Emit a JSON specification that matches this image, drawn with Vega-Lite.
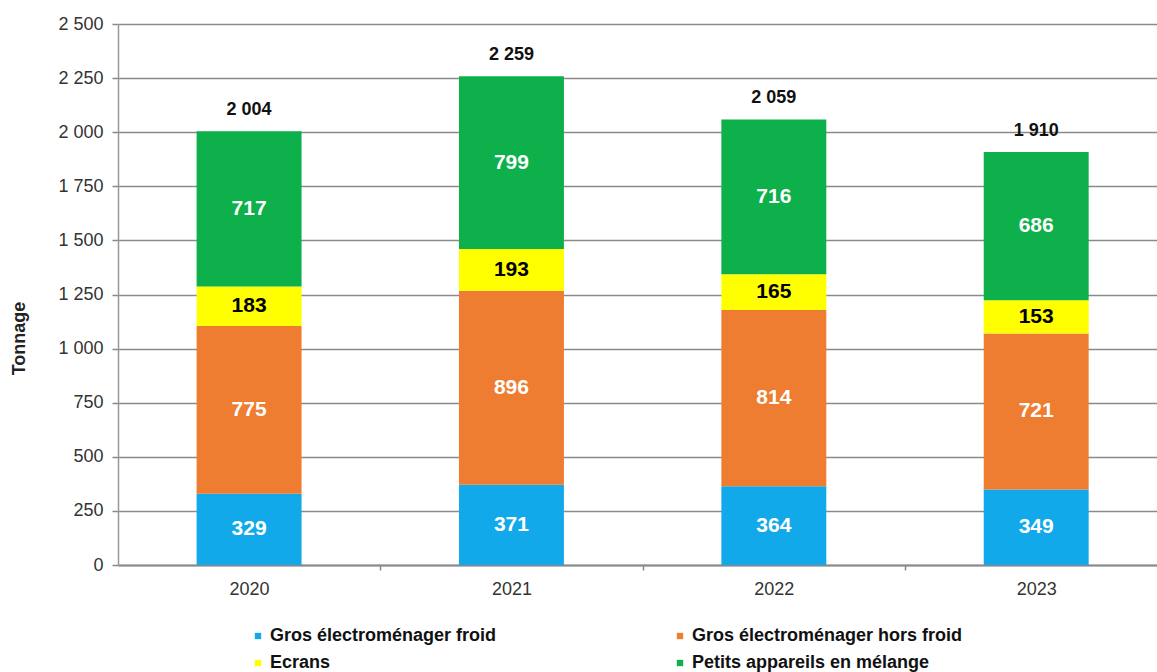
{
  "$schema": "https://vega.github.io/schema/vega-lite/v6.json",
  "width": 1039,
  "height": 541,
  "autosize": {"type": "none"},
  "padding": {"left": 118, "top": 24, "right": 0, "bottom": 107},
  "background": "white",
  "config": {
    "view": {"stroke": null},
    "font": "Liberation Sans",
    "locale": {"number": {"decimal": ",", "thousands": " ", "grouping": [3], "currency": ["", " €"]}}
  },
  "datasets": {
    "tonnages": [
      {"annee": "2020", "categorie": "Gros électroménager froid", "ordre": 1, "valeur": 329},
      {"annee": "2020", "categorie": "Gros électroménager hors froid", "ordre": 2, "valeur": 775},
      {"annee": "2020", "categorie": "Ecrans", "ordre": 3, "valeur": 183},
      {"annee": "2020", "categorie": "Petits appareils en mélange", "ordre": 4, "valeur": 717},
      {"annee": "2021", "categorie": "Gros électroménager froid", "ordre": 1, "valeur": 371},
      {"annee": "2021", "categorie": "Gros électroménager hors froid", "ordre": 2, "valeur": 896},
      {"annee": "2021", "categorie": "Ecrans", "ordre": 3, "valeur": 193},
      {"annee": "2021", "categorie": "Petits appareils en mélange", "ordre": 4, "valeur": 799},
      {"annee": "2022", "categorie": "Gros électroménager froid", "ordre": 1, "valeur": 364},
      {"annee": "2022", "categorie": "Gros électroménager hors froid", "ordre": 2, "valeur": 814},
      {"annee": "2022", "categorie": "Ecrans", "ordre": 3, "valeur": 165},
      {"annee": "2022", "categorie": "Petits appareils en mélange", "ordre": 4, "valeur": 716},
      {"annee": "2023", "categorie": "Gros électroménager froid", "ordre": 1, "valeur": 349},
      {"annee": "2023", "categorie": "Gros électroménager hors froid", "ordre": 2, "valeur": 721},
      {"annee": "2023", "categorie": "Ecrans", "ordre": 3, "valeur": 153},
      {"annee": "2023", "categorie": "Petits appareils en mélange", "ordre": 4, "valeur": 686}
    ],
    "totaux": [
      {"annee": "2020", "total": 2004},
      {"annee": "2021", "total": 2259},
      {"annee": "2022", "total": 2059},
      {"annee": "2023", "total": 1910}
    ]
  },
  "layer": [
    {
      "data": {"name": "tonnages"},
      "transform": [
        {"stack": "valeur", "groupby": ["annee"], "sort": [{"field": "ordre", "order": "ascending"}], "as": ["bas", "haut"]},
        {"calculate": "(datum.bas + datum.haut) / 2", "as": "milieu"}
      ],
      "layer": [
        {
          "mark": {"type": "bar"},
          "encoding": {
            "x": {
              "field": "annee", "type": "ordinal",
              "scale": {"type": "band", "paddingInner": 0.6, "paddingOuter": 0.28, "align": 0.535},
              "axis": {
                "title": null, "labelAngle": 0, "labelFontSize": 18, "labelColor": "#333333",
                "labelPadding": 10, "tickOffset": 131.2, "labelOffset": -131.2, "tickSize": 5, "tickColor": "#888888",
                "tickWidth": 1.5, "domainColor": "#8a8a8a", "domainWidth": 2, "grid": false
              }
            },
            "y": {
              "field": "bas", "type": "quantitative",
              "scale": {"domain": [0, 2500], "nice": false},
              "axis": {
                "title": "Tonnage",
                "values": [0, 250, 500, 750, 1000, 1250, 1500, 1750, 2000, 2250, 2500],
                "format": ",d", "labelFontSize": 18, "labelColor": "#333333",
                "tickSize": 6, "tickColor": "#888888", "tickWidth": 1.5, "labelPadding": 9,
                "gridColor": "#8a8a8a", "gridWidth": 1.5, "domainColor": "#999999", "domainWidth": 1.5,
                "titleFontSize": 18, "titleFontWeight": "bold", "titleColor": "#222222",
                "titleX": -99, "titleY": 314, "titleAngle": -90, "titleAlign": "center", "titleBaseline": "middle"
              }
            },
            "y2": {"field": "haut"},
            "color": {
              "field": "categorie", "type": "nominal",
              "scale": {
                "domain": ["Gros électroménager froid", "Gros électroménager hors froid", "Ecrans", "Petits appareils en mélange"],
                "range": ["#12A9EB", "#EE7D31", "#FFFF00", "#0DB04B"]
              },
              "legend": {
                "orient": "none", "legendX": 131, "legendY": 603, "direction": "horizontal", "columns": 2,
                "title": null, "symbolType": "square", "symbolSize": 40, "symbolStrokeWidth": 0,
                "labelFontSize": 18, "labelFontWeight": "bold", "labelColor": "#111111",
                "labelOffset": 3, "columnPadding": 174, "rowPadding": 9, "labelLimit": 400, "padding": 0
              }
            }
          }
        },
        {
          "mark": {"type": "text", "fontSize": 21, "fontWeight": "bold", "baseline": "middle", "align": "center"},
          "encoding": {
            "x": {"field": "annee", "type": "ordinal"},
            "y": {"field": "milieu", "type": "quantitative"},
            "text": {"field": "valeur", "type": "quantitative", "format": ",d"},
            "color": {"condition": {"test": "datum.categorie === 'Ecrans'", "value": "#000000"}, "value": "#ffffff"}
          }
        }
      ]
    },
    {
      "data": {"name": "totaux"},
      "mark": {"type": "text", "fontSize": 18, "fontWeight": "bold", "baseline": "middle", "align": "center", "dy": -21, "color": "#111111"},
      "encoding": {
        "x": {"field": "annee", "type": "ordinal"},
        "y": {"field": "total", "type": "quantitative"},
        "text": {"field": "total", "type": "quantitative", "format": ",d"}
      }
    }
  ]
}
